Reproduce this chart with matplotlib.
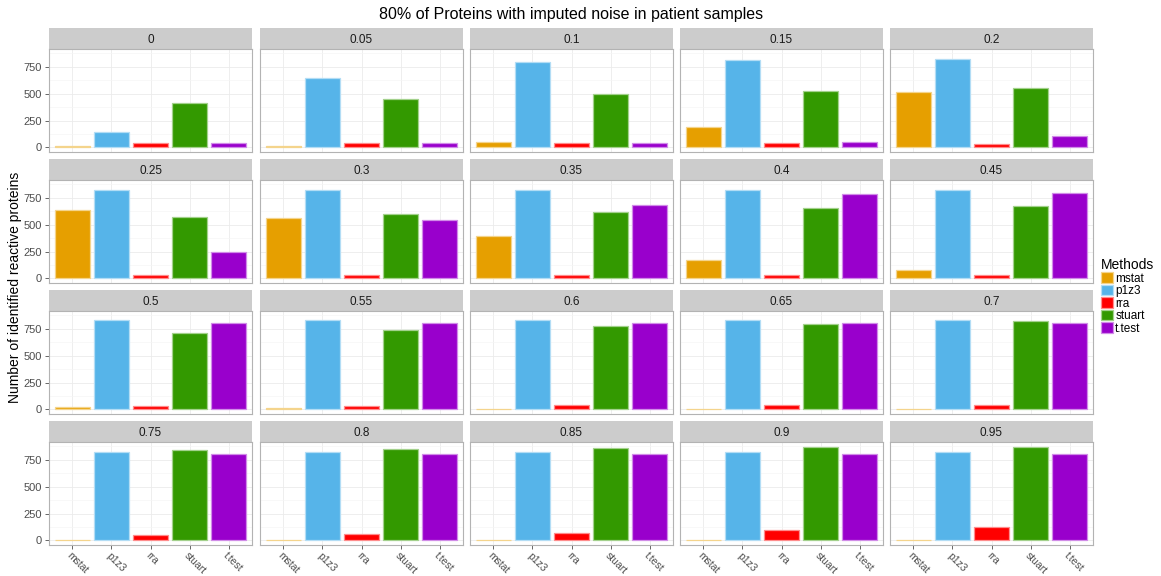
import matplotlib
matplotlib.use('Agg')
import matplotlib.pyplot as plt
from matplotlib.patches import Patch
from matplotlib.ticker import MultipleLocator
from matplotlib.colors import to_rgb

plt.rcParams['font.family'] = ['Liberation Sans', 'DejaVu Sans']

noise_levels = ['0', '0.05', '0.1', '0.15', '0.2', '0.25', '0.3', '0.35', '0.4', '0.45',
                '0.5', '0.55', '0.6', '0.65', '0.7', '0.75', '0.8', '0.85', '0.9', '0.95']
methods = ['mstat', 'p1z3', 'rra', 'stuart', 't.test']
method_colors = ['#E69F00', '#56B4E9', '#FF0000', '#339900', '#9900CC']

mstat = [9, 12, 52, 191, 515, 633, 559, 398, 170, 80, 22, 12, 0, 0, 0, 0, 0, 0, 0, 0]
p1z3 = [142, 648, 796, 818, 827, 827, 827, 827, 827, 827, 830, 830, 830, 830, 830, 827, 827, 827, 827, 827]
rra = [40, 40, 37, 37, 34, 34, 34, 34, 34, 31, 34, 34, 40, 40, 44, 49, 62, 71, 93, 127]
stuart = [410, 450, 500, 521, 555, 574, 602, 620, 654, 676, 716, 744, 778, 799, 821, 839, 855, 864, 870, 873]
t_test = [37, 37, 43, 49, 102, 247, 543, 685, 784, 799, 805, 805, 805, 805, 808, 805, 805, 805, 805, 805]

series = [mstat, p1z3, rra, stuart, t_test]

W, H = 1161, 576
fig = plt.figure(figsize=(W / 100, H / 100), dpi=100)

col_left = [49, 260, 470, 680, 890]
row_top = [28, 159, 290, 421]
pw, strip_h, ph = 203, 21, 103

ymax = max(max(s) for s in series)
pad = ymax * 0.05


def lighten(c, f=0.55):
    r, g, b = to_rgb(c)
    return (r + (1 - r) * f, g + (1 - g) * f, b + (1 - b) * f)


for i, lvl in enumerate(noise_levels):
    r, c = divmod(i, 5)
    x0 = col_left[c]
    y_strip = row_top[r]
    # strip
    sax = fig.add_axes([x0 / W, 1 - (y_strip + strip_h) / H, pw / W, strip_h / H])
    sax.set_facecolor('#CCCCCC')
    sax.set_xticks([])
    sax.set_yticks([])
    for s in sax.spines.values():
        s.set_visible(False)
    sax.text(0.5, 0.45, lvl, ha='center', va='center', fontsize=8.5, color='#1A1A1A',
             transform=sax.transAxes)

    ax = fig.add_axes([x0 / W, 1 - (y_strip + strip_h + ph) / H, pw / W, ph / H])
    vals = [s[i] for s in series]
    xs = range(len(methods))
    ax.bar(xs, vals, width=0.9, color=method_colors,
           edgecolor=[lighten(cc) for cc in method_colors], linewidth=0.9, zorder=3)
    ax.set_xlim(-0.6, 4.6)
    ax.set_ylim(-pad, ymax + pad)
    ax.yaxis.set_major_locator(MultipleLocator(250))
    ax.yaxis.set_minor_locator(MultipleLocator(125))
    ax.set_xticks(list(xs))
    ax.grid(which='major', color='#EBEBEB', linewidth=0.6, zorder=0)
    ax.grid(which='minor', axis='y', color='#F5F5F5', linewidth=0.5, zorder=0)
    for s in ax.spines.values():
        s.set_color('#B3B3B3')
        s.set_linewidth(0.8)
    ax.tick_params(which='minor', length=0)
    ax.tick_params(which='major', length=3, color='#4D4D4D', width=0.6,
                   labelsize=8, labelcolor='#4D4D4D', pad=2)
    if c != 0:
        ax.tick_params(axis='y', length=0, labelleft=False)
    if r == 3:
        ax.set_xticklabels(methods, rotation=-45, ha='left', va='top',
                           rotation_mode='anchor', fontsize=7.5, color='#4D4D4D')
        ax.tick_params(axis='x', pad=1)
    else:
        ax.tick_params(axis='x', length=0, labelbottom=False)

fig.text(571 / W, 1 - 15 / H, '80% of Proteins with imputed noise in patient samples',
         ha='center', va='center', fontsize=11.5, color='black')
fig.text(15 / W, 1 - 287 / H, 'Number of identified reactive proteins',
         ha='center', va='center', rotation=90, fontsize=10, color='black')

handles = [Patch(facecolor=cc, edgecolor=lighten(cc), linewidth=0.9) for cc in method_colors]
leg = fig.legend(handles, methods, title='Methods', loc='upper left',
                 bbox_to_anchor=(1101 / W, 1 - 258 / H), frameon=False,
                 handlelength=1.0, handleheight=1.05, handletextpad=0.2,
                 labelspacing=0.0, borderpad=0, borderaxespad=0, fontsize=8.5,
                 title_fontsize=10, alignment='left')

fig.savefig('out.png', dpi=100)
